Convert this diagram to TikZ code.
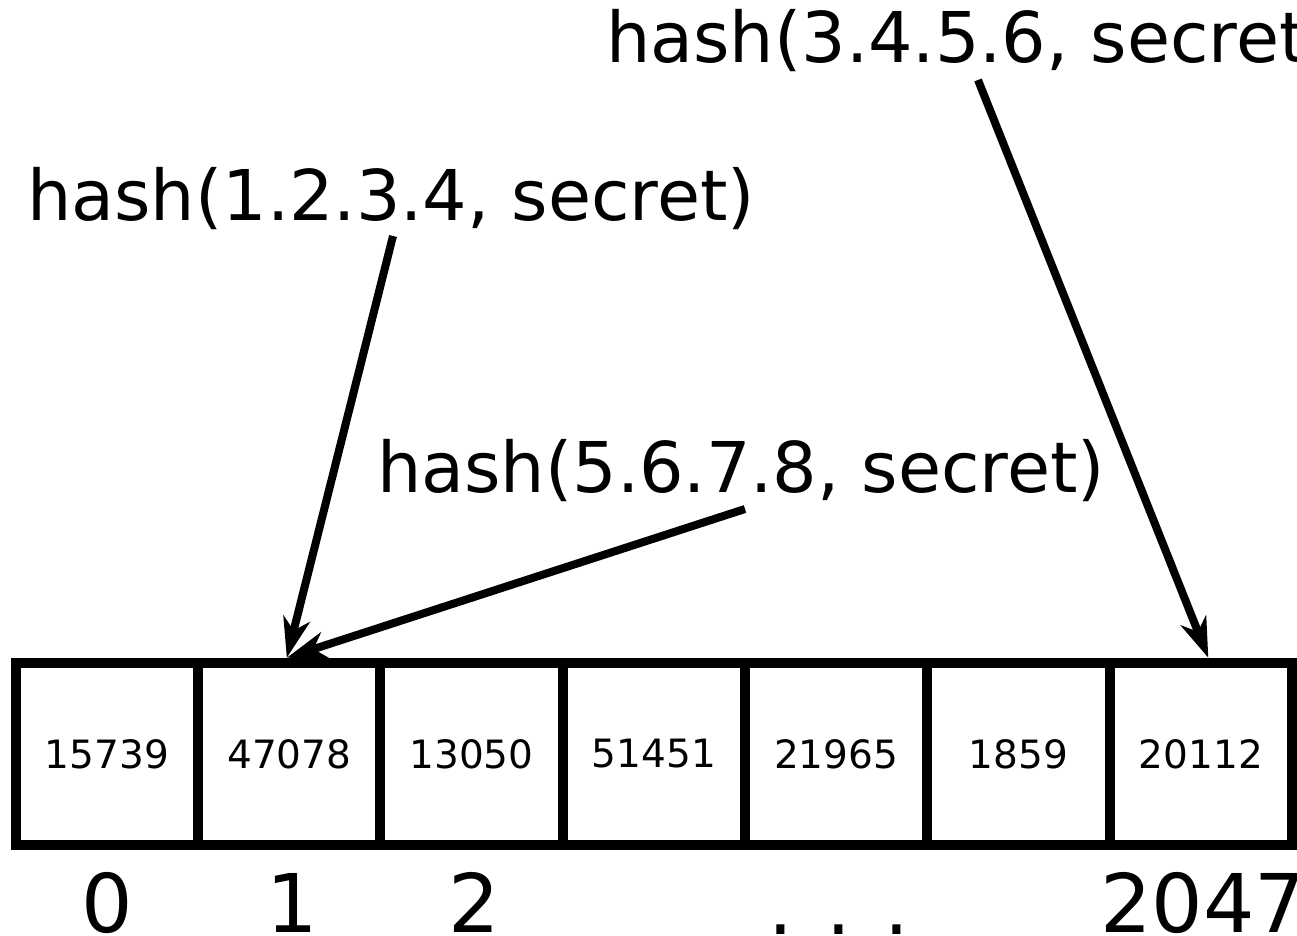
\documentclass[tikz,border=0pt]{standalone}
\usepackage{fontspec}
\setmainfont{DejaVu Sans}
\usetikzlibrary{arrows.meta,positioning}

\begin{document}
\begin{tikzpicture}[
    x=1pt, y=1pt,
    cell/.style={draw, line width=10pt, outer sep=0pt, inner sep=0pt, minimum width=182.3pt, minimum height=182.5pt, font=\fontsize{39}{47}\selectfont},
    hashlbl/.style={anchor=base west, inner sep=0pt, font=\fontsize{70}{84}\selectfont},
    idx/.style={anchor=base, inner sep=0pt, font=\fontsize{81}{96}\selectfont},
    arrow/.style={-{Stealth[length=40pt, width=27pt, inset=12pt]}, line width=8pt}
  ]
    \useasboundingbox (0,0) rectangle (1297,935);

    % the table
    \node[cell] (c0) at (107,181) {15739};
    \node[cell, right=0pt of c0] (c1) {47078};
    \node[cell, right=0pt of c1] (c2) {13050};
    \node[cell, right=0pt of c2] (c3) {51451};
    \node[cell, right=0pt of c3] (c4) {21965};
    \node[cell, right=0pt of c4] (c5) {1859};
    \node[cell, right=0pt of c5] (c6) {20112};

    % indices
    \node[idx] (i0) at (107,3) {0};
    \node[idx] (i1) at (292,3) {1};
    \node[idx] (i2) at (474,3) {2};
    \node[idx, font=\fontsize{78}{90}\selectfont] (dots) at (839,1) {. . .};
    \node[idx, anchor=base west] (i6) at (1100,3) {2047};

    % hash labels
    \node[hashlbl] (h1) at (27,714) {hash(1.2.3.4, secret)};
    \node[hashlbl] (h2) at (377,442) {hash(5.6.7.8, secret)};
    \node[hashlbl] (h3) at (606,872) {hash(3.4.5.6, secret)};

    \coordinate (s1) at (393,699);
    \coordinate (s2) at (745,426);
    \coordinate (s3) at (978,855);
    \coordinate (t1) at ([shift={(-2.5,5)}]c1.north);
    \coordinate (t6) at ([shift={(7.5,5)}]c6.north);

    \draw[arrow] (s1) -- (t1);
    \draw[arrow] (s2) -- (t1);
    \draw[arrow] (s3) -- (t6);
\end{tikzpicture}
\end{document}
